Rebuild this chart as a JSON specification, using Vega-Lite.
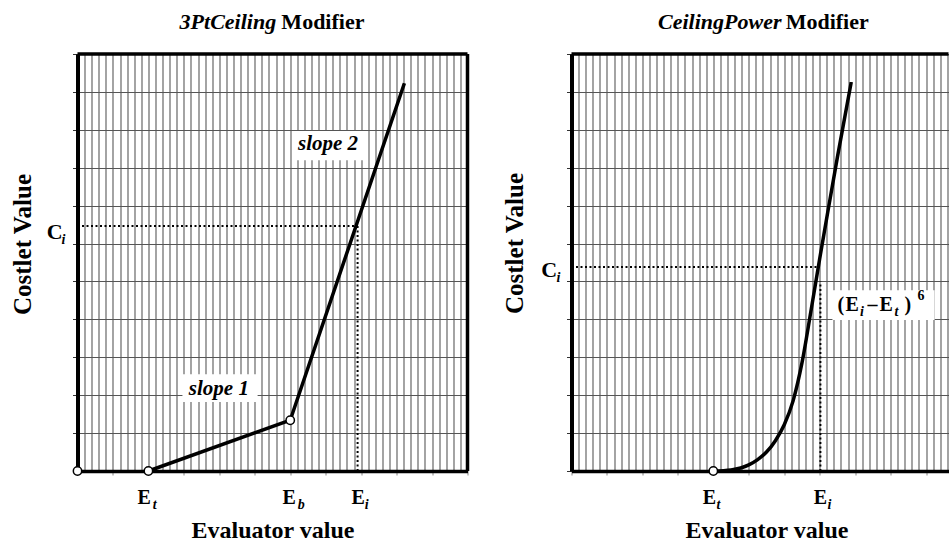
{
  "$schema": "https://vega.github.io/schema/vega-lite/v6.json",
  "background": "white",
  "padding": {"left": 10.5, "top": 10, "right": 0, "bottom": 0},
  "bounds": "flush",
  "spacing": 104,
  "config": {"view": {"stroke": null}},
  "datasets": {
    "L_line": [{"x": 2, "y": 0}, {"x": 6, "y": 1.34}, {"x": 9.22, "y": 10.23}],
    "L_pts": [{"x": 0, "y": 0}, {"x": 2, "y": 0}, {"x": 6, "y": 1.34}],
    "L_dots": [{"x": 0, "y": 6.46, "x2": 7.86, "y2": 6.46}, {"x": 7.9, "y": 0, "x2": 7.9, "y2": 6.5}],
    "L_frame": [{"x": 0, "y": 11, "x2": 11, "y2": 11}, {"x": 11, "y": 0, "x2": 11, "y2": 11}],
    "L_boxes": [{"x": 2.96, "x2": 5.08, "y": 1.82, "y2": 2.55}, {"x": 6.06, "x2": 8.12, "y": 8.2, "y2": 8.97}],
    "L_up": [
      {"x": 5.75, "y": 11.66, "text": "Modifier", "size": 22},
      {"x": -0.87, "y": 6.12, "text": "C", "size": 22},
      {"x": 1.69, "y": -0.87, "text": "E", "size": 20},
      {"x": 5.78, "y": -0.87, "text": "E", "size": 20},
      {"x": 7.73, "y": -0.87, "text": "E", "size": 20}
    ],
    "L_it": [
      {"x": 2.88, "y": 11.66, "text": "3PtCeiling", "size": 22},
      {"x": -0.45, "y": 5.99, "text": "i", "size": 14},
      {"x": 2.12, "y": -1.0, "text": "t", "size": 14},
      {"x": 6.21, "y": -1.0, "text": "b", "size": 14},
      {"x": 8.1, "y": -1.0, "text": "i", "size": 14},
      {"x": 3.14, "y": 2.0, "text": "slope 1", "size": 21},
      {"x": 6.22, "y": 8.47, "text": "slope 2", "size": 21}
    ],
    "R_line": [
      {"x": 4, "y": 0}, {"x": 4.5, "y": 0.03}, {"x": 5.0, "y": 0.16}, {"x": 5.25, "y": 0.3},
      {"x": 5.5, "y": 0.5}, {"x": 5.75, "y": 0.8}, {"x": 6.0, "y": 1.22}, {"x": 6.25, "y": 1.85},
      {"x": 6.5, "y": 2.85}, {"x": 6.75, "y": 4.2}, {"x": 7.0, "y": 5.6}, {"x": 7.25, "y": 6.95},
      {"x": 7.5, "y": 8.28}, {"x": 7.89, "y": 10.26}
    ],
    "R_pts": [{"x": 4, "y": 0}],
    "R_dots": [{"x": 0, "y": 5.38, "x2": 6.93, "y2": 5.38}, {"x": 7.02, "y": 0, "x2": 7.02, "y2": 5.0}],
    "R_top": [{"x": 0, "y": 11, "x2": 10.633, "y2": 11}],
    "R_boxes": [{"x": 7.36, "x2": 10.24, "y": 3.98, "y2": 4.77}],
    "R_up": [
      {"x": 6.04, "y": 11.66, "text": "Modifier", "size": 22},
      {"x": -0.85, "y": 5.12, "text": "C", "size": 22},
      {"x": 3.7, "y": -0.87, "text": "E", "size": 20},
      {"x": 6.83, "y": -0.87, "text": "E", "size": 20},
      {"x": 7.5, "y": 4.22, "text": "(", "size": 20},
      {"x": 7.73, "y": 4.22, "text": "E", "size": 20},
      {"x": 8.35, "y": 4.22, "text": "–", "size": 20},
      {"x": 8.69, "y": 4.22, "text": "E", "size": 20},
      {"x": 9.39, "y": 4.22, "text": ")", "size": 20},
      {"x": 9.76, "y": 4.5, "text": "6", "size": 14}
    ],
    "R_it": [
      {"x": 2.44, "y": 11.66, "text": "CeilingPower", "size": 22},
      {"x": -0.42, "y": 4.99, "text": "i", "size": 14},
      {"x": 4.09, "y": -1.0, "text": "t", "size": 14},
      {"x": 7.22, "y": -1.0, "text": "i", "size": 14},
      {"x": 8.14, "y": 4.09, "text": "i", "size": 14},
      {"x": 9.11, "y": 4.09, "text": "t", "size": 14}
    ]
  },
  "hconcat": [
    {
      "width": 390,
      "height": 417,
      "encoding": {
        "x": {
          "field": "x", "type": "quantitative",
          "scale": {"domain": [0, 11], "nice": false, "zero": false},
          "axis": {
            "title": "Evaluator value", "titleFont": "Liberation Serif", "titleFontSize": 24, "titleFontWeight": "bold", "titleColor": "black",
            "titleX": 195, "titleY": 59, "titleBaseline": "middle",
            "labels": false, "domain": true, "domainColor": "black", "domainWidth": 3.5,
            "values": [0,0.2,0.4,0.6,0.8,1,1.2,1.4,1.6,1.8,2,2.2,2.4,2.6,2.8,3,3.2,3.4,3.6,3.8,4,4.2,4.4,4.6,4.8,5,5.2,5.4,5.6,5.8,6,6.2,6.4,6.6,6.8,7,7.2,7.4,7.6,7.8,8,8.2,8.4,8.6,8.8,9,9.2,9.4,9.6,9.8,10,10.2,10.4,10.6,10.8,11],
            "grid": true, "gridColor": "#9a9a9a", "gridWidth": 1.8, "gridOpacity": 1,
            "ticks": true, "tickSize": 4, "tickColor": "#888888", "tickWidth": 1,
            "tickOpacity": {"condition": {"test": "abs(datum.value - round(datum.value)) < 0.01", "value": 1}, "value": 0}
          }
        },
        "y": {
          "field": "y", "type": "quantitative",
          "scale": {"domain": [0, 11], "nice": false, "zero": false},
          "axis": {
            "title": "Costlet Value", "titleFont": "Liberation Serif", "titleFontSize": 25, "titleFontWeight": "bold", "titleColor": "black",
            "titleX": -55, "titleY": 190, "titleBaseline": "middle", "titleAngle": -90,
            "labels": false, "domain": true, "domainColor": "black", "domainWidth": 4,
            "values": [0,1,2,3,4,5,6,7,8,9,10,11],
            "grid": true, "gridColor": "#555555", "gridWidth": 1.2, "gridOpacity": 1,
            "ticks": true, "tickSize": 5, "tickColor": "#333333", "tickWidth": 1
          }
        }
      },
      "layer": [
        {"data": {"name": "L_boxes"}, "mark": {"type": "rect", "fill": "white"}, "encoding": {"x2": {"field": "x2"}, "y2": {"field": "y2"}}},
        {"data": {"name": "L_frame"}, "mark": {"type": "rule", "color": "black", "strokeWidth": 3.5}, "encoding": {"x2": {"field": "x2"}, "y2": {"field": "y2"}}},
        {"data": {"name": "L_dots"}, "mark": {"type": "rule", "color": "black", "strokeWidth": 2, "strokeDash": [2, 2.5]}, "encoding": {"x2": {"field": "x2"}, "y2": {"field": "y2"}}},
        {"data": {"name": "L_line"}, "mark": {"type": "line", "color": "black", "strokeWidth": 3.5}, "encoding": {}},
        {"data": {"name": "L_pts"}, "mark": {"type": "point", "filled": true, "fill": "white", "stroke": "black", "strokeWidth": 1.5, "size": 70, "opacity": 1}, "encoding": {}},
        {"data": {"name": "L_up"}, "mark": {"type": "text", "font": "Liberation Serif", "fontWeight": "bold", "fontStyle": "normal", "align": "left", "baseline": "alphabetic", "color": "black"},
         "encoding": {"text": {"field": "text"}, "size": {"field": "size", "type": "quantitative", "scale": null}}},
        {"data": {"name": "L_it"}, "mark": {"type": "text", "font": "Liberation Serif", "fontWeight": "bold", "fontStyle": "italic", "align": "left", "baseline": "alphabetic", "color": "black"},
         "encoding": {"text": {"field": "text"}, "size": {"field": "size", "type": "quantitative", "scale": null}}}
      ]
    },
    {
      "width": 377,
      "height": 417,
      "encoding": {
        "x": {
          "field": "x", "type": "quantitative",
          "scale": {"domain": [0, 10.633], "nice": false, "zero": false},
          "axis": {
            "title": "Evaluator value", "titleFont": "Liberation Serif", "titleFontSize": 24, "titleFontWeight": "bold", "titleColor": "black",
            "titleX": 195, "titleY": 59, "titleBaseline": "middle",
            "labels": false, "domain": true, "domainColor": "black", "domainWidth": 3.5,
            "values": [0,0.2,0.4,0.6,0.8,1,1.2,1.4,1.6,1.8,2,2.2,2.4,2.6,2.8,3,3.2,3.4,3.6,3.8,4,4.2,4.4,4.6,4.8,5,5.2,5.4,5.6,5.8,6,6.2,6.4,6.6,6.8,7,7.2,7.4,7.6,7.8,8,8.2,8.4,8.6,8.8,9,9.2,9.4,9.6,9.8,10,10.2,10.4,10.6],
            "grid": true, "gridColor": "#9a9a9a", "gridWidth": 1.8, "gridOpacity": 1,
            "ticks": true, "tickSize": 4, "tickColor": "#888888", "tickWidth": 1,
            "tickOpacity": {"condition": {"test": "abs(datum.value - round(datum.value)) < 0.01", "value": 1}, "value": 0}
          }
        },
        "y": {
          "field": "y", "type": "quantitative",
          "scale": {"domain": [0, 11], "nice": false, "zero": false},
          "axis": {
            "title": "Costlet Value", "titleFont": "Liberation Serif", "titleFontSize": 25, "titleFontWeight": "bold", "titleColor": "black",
            "titleX": -57, "titleY": 189, "titleBaseline": "middle", "titleAngle": -90,
            "labels": false, "domain": true, "domainColor": "black", "domainWidth": 4,
            "values": [0,1,2,3,4,5,6,7,8,9,10,11],
            "grid": true, "gridColor": "#555555", "gridWidth": 1.2, "gridOpacity": 1,
            "ticks": true, "tickSize": 5, "tickColor": "#333333", "tickWidth": 1
          }
        }
      },
      "layer": [
        {"data": {"name": "R_boxes"}, "mark": {"type": "rect", "fill": "white"}, "encoding": {"x2": {"field": "x2"}, "y2": {"field": "y2"}}},
        {"data": {"name": "R_top"}, "mark": {"type": "rule", "color": "black", "strokeWidth": 3.5}, "encoding": {"x2": {"field": "x2"}, "y2": {"field": "y2"}}},
        {"data": {"name": "R_dots"}, "mark": {"type": "rule", "color": "black", "strokeWidth": 2, "strokeDash": [2, 2.5]}, "encoding": {"x2": {"field": "x2"}, "y2": {"field": "y2"}}},
        {"data": {"name": "R_line"}, "mark": {"type": "line", "color": "black", "strokeWidth": 3.5, "interpolate": "monotone"}, "encoding": {}},
        {"data": {"name": "R_pts"}, "mark": {"type": "point", "filled": true, "fill": "white", "stroke": "black", "strokeWidth": 1.5, "size": 70, "opacity": 1}, "encoding": {}},
        {"data": {"name": "R_up"}, "mark": {"type": "text", "font": "Liberation Serif", "fontWeight": "bold", "fontStyle": "normal", "align": "left", "baseline": "alphabetic", "color": "black"},
         "encoding": {"text": {"field": "text"}, "size": {"field": "size", "type": "quantitative", "scale": null}}},
        {"data": {"name": "R_it"}, "mark": {"type": "text", "font": "Liberation Serif", "fontWeight": "bold", "fontStyle": "italic", "align": "left", "baseline": "alphabetic", "color": "black"},
         "encoding": {"text": {"field": "text"}, "size": {"field": "size", "type": "quantitative", "scale": null}}}
      ]
    }
  ]
}
